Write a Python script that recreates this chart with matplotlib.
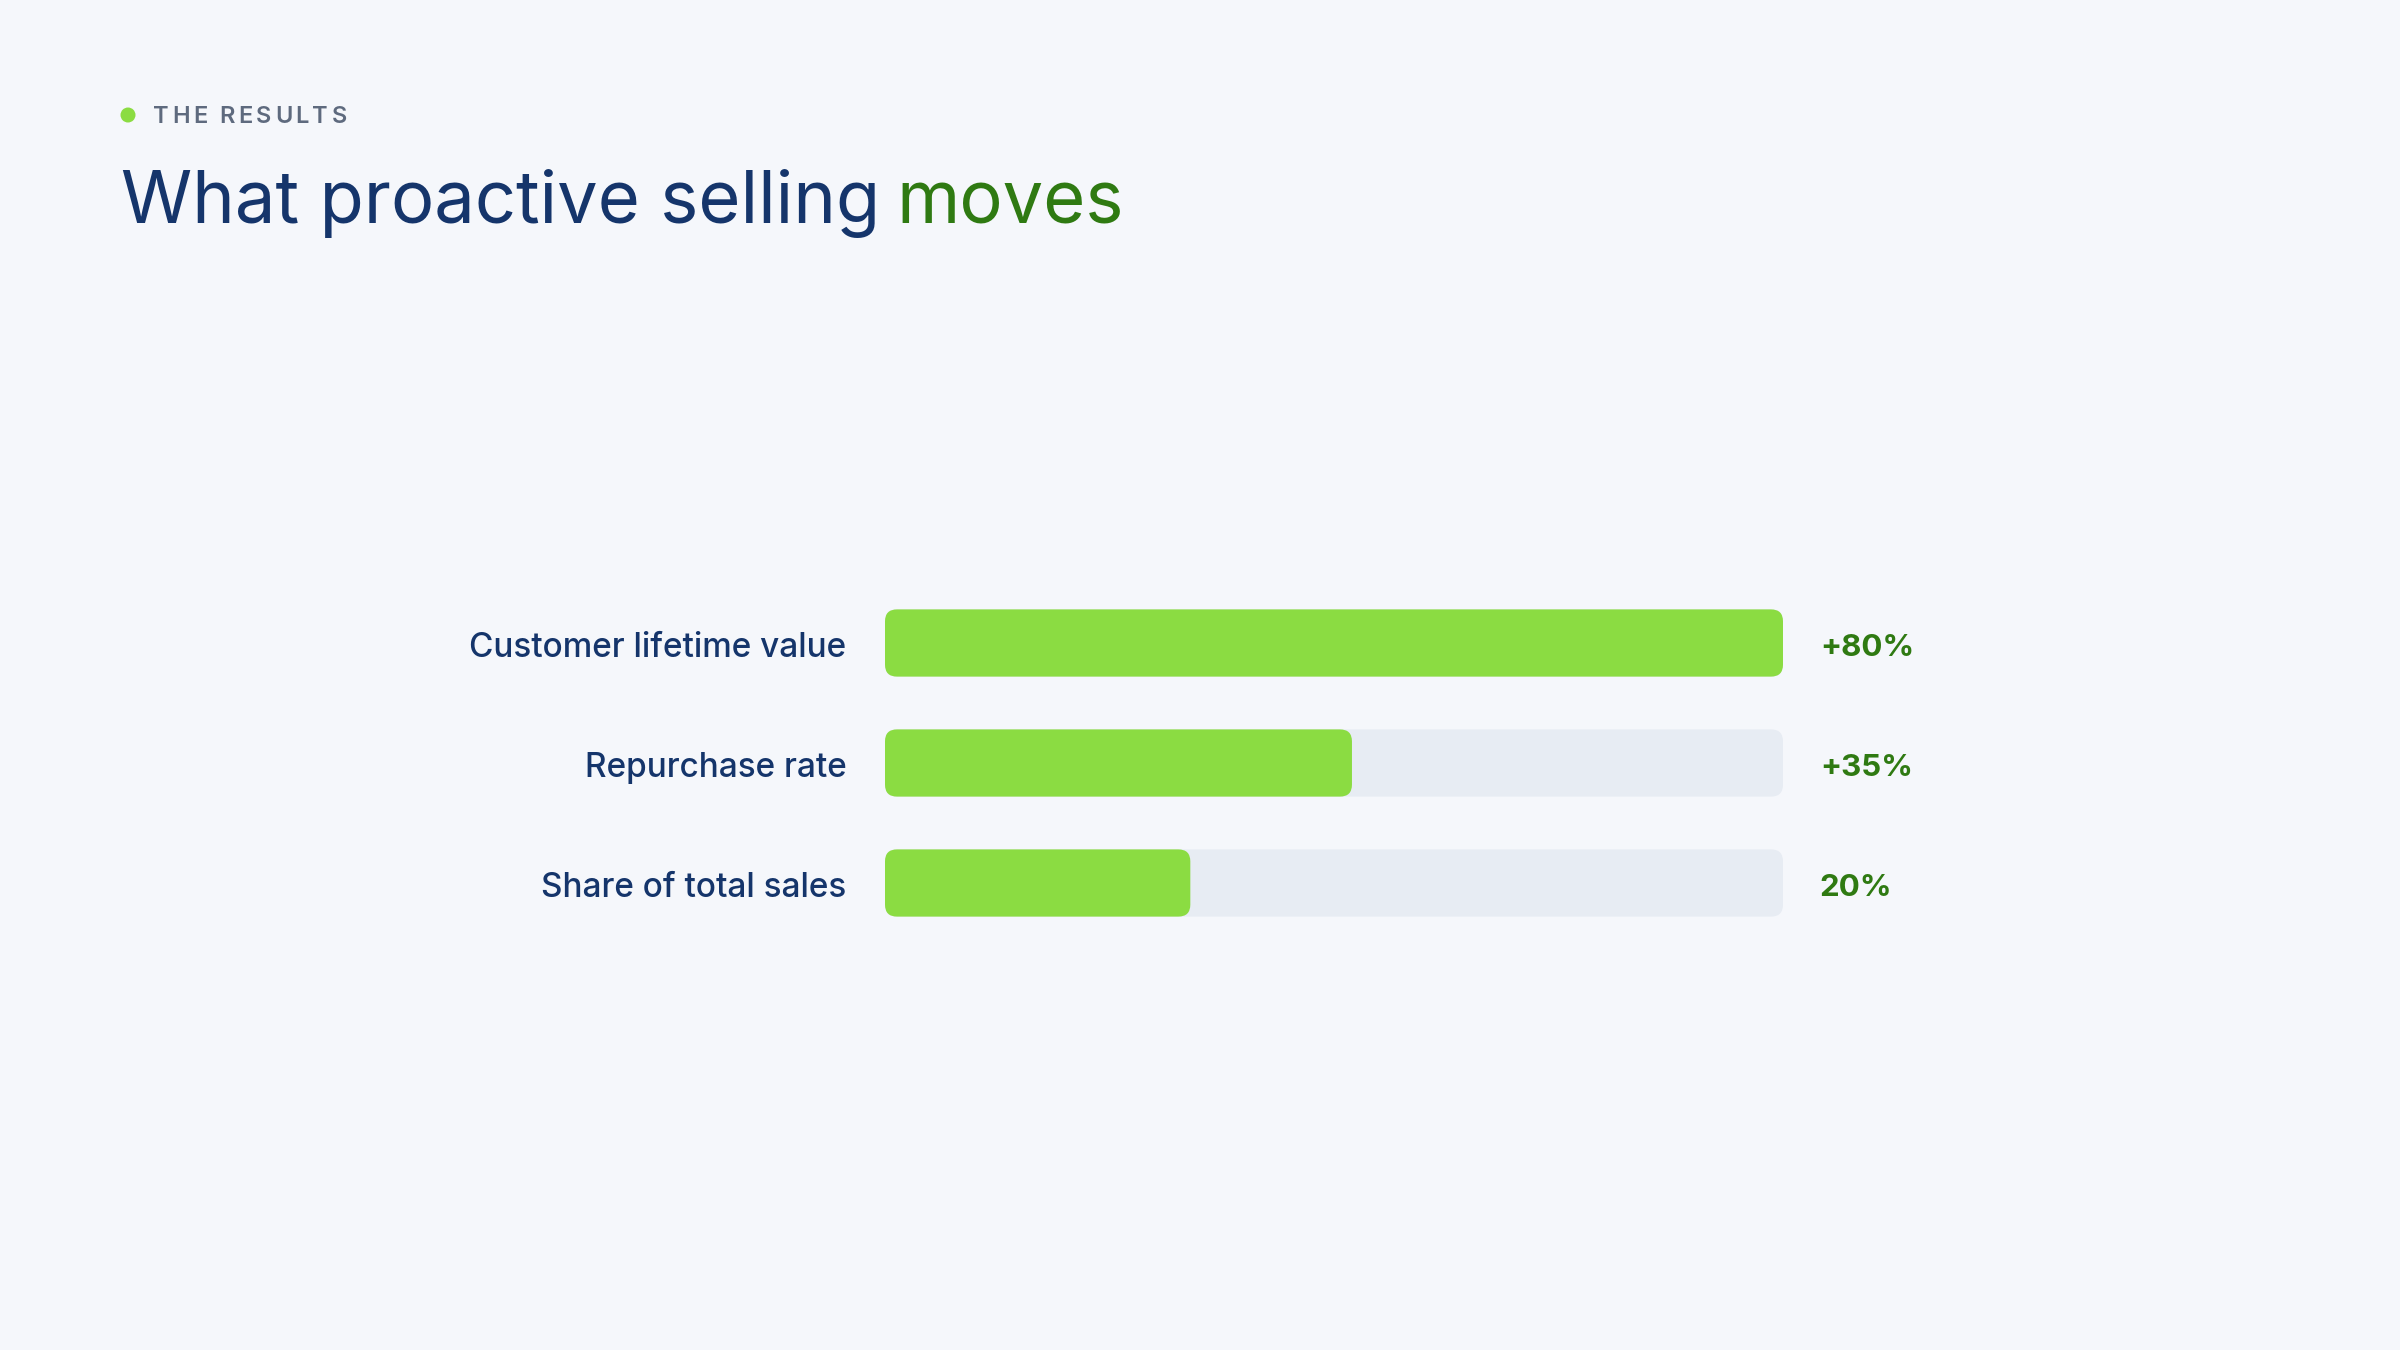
import matplotlib
matplotlib.use("Agg")
import matplotlib.pyplot as plt
from matplotlib.patches import FancyBboxPatch, Circle

# data
labels = ["Customer lifetime value", "Repurchase rate", "Share of total sales"]
value_text = ["+80%", "+35%", "20%"]
fill_share = [1.00, 0.52, 0.34]  # filled part of each track

eyebrow = "THE RESULTS"
title_main = "What proactive selling"
title_accent = "moves"

bg = "#F5F7FB"
navy = "#15356B"
green = "#8BDC42"
dark_green = "#2F7A12"
track = "#E7ECF3"
grey = "#5E6A7E"

W, H, DPI = 2400, 1350, 100
plt.rcParams['font.family'] = ['Inter', 'DejaVu Sans']

fig = plt.figure(figsize=(W / DPI, H / DPI), dpi=DPI, facecolor=bg)

# page layer in pixel units for the heading
page = fig.add_axes([0, 0, 1, 1])
page.set_xlim(0, W)
page.set_ylim(H, 0)
page.axis('off')

fig.canvas.draw()
r = fig.canvas.get_renderer()

# eyebrow with a dot and letter spacing
page.add_patch(Circle((128, 115), 7.5, color=green, lw=0))
x = 153
for ch in eyebrow:
    if ch == " ":
        x += 9
        continue
    t = page.text(x, 123, ch, fontsize=17, fontweight='semibold', color=grey, va='baseline')
    x += t.get_window_extent(renderer=r).width + 3.4

# two-colour title
t1 = page.text(121, 223, title_main, fontsize=52, color=navy, va='baseline')
x_end = t1.get_window_extent(renderer=r).x1
page.text(x_end + 16, 223, title_accent, fontsize=52, color=dark_green, va='baseline')

# bars
n = len(labels)
ax_left, ax_w = 885, 898
ax_top, row_px = 583, 120
ax = fig.add_axes([ax_left / W, 1 - (ax_top + n * row_px) / H, ax_w / W, n * row_px / H])
ax.set_xlim(0, 1)
ax.set_ylim(n - 0.5, -0.5)
ax.axis('off')

bar_h = 0.56
radius_px = 12
rx = radius_px / ax_w
asp = (1 / row_px) / (1 / ax_w)

for i, (lab, val, frac) in enumerate(zip(labels, value_text, fill_share)):
    ax.add_patch(FancyBboxPatch((0, i - bar_h / 2), 1, bar_h,
                                boxstyle=f"round,pad=0,rounding_size={rx}",
                                mutation_aspect=asp, fc=track, ec='none'))
    ax.add_patch(FancyBboxPatch((0, i - bar_h / 2), frac, bar_h,
                                boxstyle=f"round,pad=0,rounding_size={rx}",
                                mutation_aspect=asp, fc=green, ec='none'))
    ax.text(-0.043, i + 0.015, lab, ha='right', va='center_baseline', fontsize=24,
            fontweight='medium', color=navy)
    ax.text(1.041, i + 0.015, val, ha='left', va='center_baseline', fontsize=22.5,
            fontweight='bold', color=dark_green)

fig.savefig("out.png", dpi=DPI, facecolor=bg)
